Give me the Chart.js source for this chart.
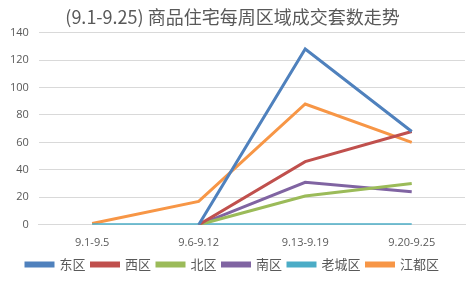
<!DOCTYPE html>
<html><head><meta charset="utf-8">
<script src="https://cdn.jsdelivr.net/npm/chart.js@4/dist/chart.umd.min.js"></script>
<style>html,body{margin:0;padding:0;background:#fff}#c{display:block}</style>
</head><body>
<canvas id="c" width="474" height="285"></canvas>
<script>
const categories = ['9.1-9.5', '9.6-9.12', '9.13-9.19', '9.20-9.25'];
const east  = [null, 0, 128, 68];
const west  = [null, 0, 46, 68];
const north = [null, 0, 21, 30];
const south = [null, 0, 31, 24];
const oldCity = [0, 0, 0, 0];
const jiangdu = [1, 17, 88, 60];
const seriesNames = ['东区', '西区', '北区', '南区', '老城区', '江都区'];
const yTicks = [0, 20, 40, 60, 80, 100, 120, 140];
const colors = ['#4F81BD', '#C0504D', '#9BBB59', '#8064A2', '#4BACC6', '#F79646'];
const all = [east, west, north, south, oldCity, jiangdu];

new Chart(document.getElementById('c'), {
  type: 'line',
  data: {
    labels: categories,
    datasets: all.map((d, i) => ({
      label: seriesNames[i], data: d,
      borderColor: colors[i], backgroundColor: colors[i],
      borderWidth: 3, pointRadius: 0, tension: 0, spanGaps: false
    }))
  },
  options: {
    responsive: false, animation: false,
    layout: { padding: { left: 0, right: 9, top: 0, bottom: 4 } },
    plugins: {
      title: { display: true, text: '(9.1-9.25) 商品住宅每周区域成交套数走势',
        color: '#595959', font: { family: "'Noto Sans CJK SC', sans-serif", size: 18, weight: 'normal' },
        padding: { top: 6, bottom: 5 } },
      legend: { position: 'bottom',
        labels: { boxWidth: 27, boxHeight: 3, color: '#595959', padding: 6,
          font: { family: "'Noto Sans CJK SC', sans-serif", size: 13 } } },
      tooltip: { enabled: false }
    },
    scales: {
      x: { offset: true,
        grid: { display: false },
        border: { display: true, color: '#d9d9d9' },
        ticks: { color: '#595959', font: { family: "'Open Sans', sans-serif", size: 11 }, maxRotation: 0 } },
      y: { min: 0, max: 140,
        afterBuildTicks: ax => { ax.ticks = yTicks.map(v => ({ value: v })); },
        grid: { color: '#d9d9d9', drawTicks: false },
        border: { display: false },
        ticks: { color: '#595959', padding: 10, font: { family: "'Open Sans', sans-serif", size: 11 } } }
    }
  }
});
</script>
</body></html>
